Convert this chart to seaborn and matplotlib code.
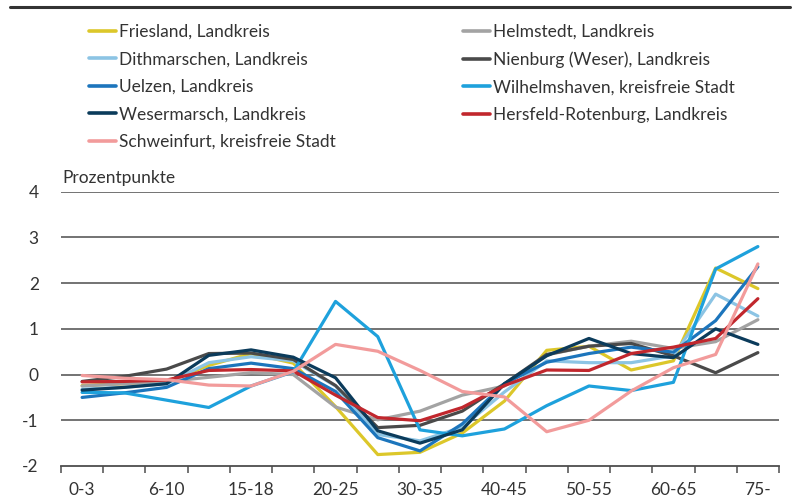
import matplotlib
matplotlib.use("Agg")
import matplotlib.pyplot as plt
from matplotlib.lines import Line2D
import seaborn as sns
import pandas as pd

categories = ["0-3", "3-6", "6-10", "10-15", "15-18", "18-20", "20-25", "25-30", "30-35",
              "35-40", "40-45", "45-50", "50-55", "55-60", "60-65", "65-75", "75-"]
tick_labels = ["0-3", "6-10", "15-18", "20-25", "30-35", "40-45", "50-55", "60-65", "75-"]

friesland     = [-0.24, -0.20, -0.15, 0.20, 0.46, 0.25, -0.70, -1.75, -1.70, -1.28, -0.58, 0.53, 0.62, 0.10, 0.30, 2.33, 1.88]
helmstedt     = [-0.25, -0.20, -0.15, -0.06, 0.04, 0.00, -0.71, -0.99, -0.80, -0.45, -0.25, 0.43, 0.62, 0.73, 0.57, 0.72, 1.20]
dithmarschen  = [-0.32, -0.28, -0.20, 0.26, 0.39, 0.30, -0.25, -1.31, -1.45, -1.15, -0.38, 0.30, 0.26, 0.26, 0.41, 1.76, 1.28]
nienburg      = [-0.15, -0.04, 0.12, 0.46, 0.47, 0.33, -0.24, -1.16, -1.11, -0.80, -0.20, 0.44, 0.62, 0.68, 0.41, 0.04, 0.48]
uelzen        = [-0.50, -0.40, -0.28, 0.13, 0.25, 0.13, -0.37, -1.38, -1.67, -1.08, -0.20, 0.27, 0.46, 0.60, 0.49, 1.18, 2.36]
wilhelmshaven = [-0.39, -0.40, -0.56, -0.72, -0.25, 0.06, 1.60, 0.83, -1.21, -1.34, -1.19, -0.68, -0.25, -0.35, -0.17, 2.31, 2.80]
wesermarsch   = [-0.34, -0.28, -0.20, 0.42, 0.54, 0.38, -0.07, -1.23, -1.50, -1.21, -0.20, 0.41, 0.79, 0.46, 0.37, 1.00, 0.66]
hersfeld      = [-0.16, -0.15, -0.12, 0.09, 0.11, 0.08, -0.45, -0.94, -1.01, -0.72, -0.24, 0.10, 0.09, 0.46, 0.60, 0.79, 1.66]
schweinfurt   = [-0.02, -0.08, -0.11, -0.23, -0.25, 0.07, 0.66, 0.51, 0.09, -0.37, -0.49, -1.25, -1.00, -0.36, 0.15, 0.44, 2.42]

series_names = ["Friesland, Landkreis", "Helmstedt, Landkreis", "Dithmarschen, Landkreis",
                "Nienburg (Weser), Landkreis", "Uelzen, Landkreis", "Wilhelmshaven, kreisfreie Stadt",
                "Wesermarsch, Landkreis", "Hersfeld-Rotenburg, Landkreis", "Schweinfurt, kreisfreie Stadt"]
series_values = [friesland, helmstedt, dithmarschen, nienburg, uelzen, wilhelmshaven,
                 wesermarsch, hersfeld, schweinfurt]
colors = ["#dcc72a", "#a3a3a3", "#8cc4e4", "#4a4a4a", "#1c75bc", "#1ea1dc",
          "#0b3b5b", "#c1272d", "#f29b9b"]

rows = []
for name, vals in zip(series_names, series_values):
    for i, (c, v) in enumerate(zip(categories, vals)):
        rows.append({"series": name, "pos": i, "cat": c, "value": v})
df = pd.DataFrame(rows)

sns.set_theme(style="white")
plt.rcParams["font.family"] = ["Lato", "DejaVu Sans"]
text_color = "#333333"

fig = plt.figure(figsize=(7.95, 4.97), dpi=100)
ax = fig.add_axes([61 / 795, 1 - 466 / 497, (779 - 61) / 795, (466 - 191.7) / 497])

palette = dict(zip(series_names, colors))
sns.lineplot(data=df, x="pos", y="value", hue="series", hue_order=series_names,
             palette=palette, linewidth=2.3, ax=ax, legend=False, sort=False)

ax.set_xlim(-0.5, len(categories) - 0.5)
ax.set_ylim(-2, 4)
ax.set_yticks([-2, -1, 0, 1, 2, 3, 4])
ax.set_yticklabels(["-2", "-1", "0", "1", "2", "3", "4"])
for v in [-1, 0, 1, 2, 3, 4]:
    ax.axhline(v, color="#4d4d4d", linewidth=1.1, zorder=0)

major_pos = [categories.index(t) for t in tick_labels]
ax.set_xticks(major_pos)
ax.set_xticklabels(tick_labels)
ax.set_xticks([i - 0.5 for i in range(len(categories) + 1)], minor=True)
ax.tick_params(axis="x", which="major", length=0, pad=11.5, labelsize=12.5, colors=text_color)
ax.tick_params(axis="x", which="minor", length=5, width=1.1, color="#4d4d4d", direction="out", bottom=True)
ax.tick_params(axis="y", length=0, pad=16, labelsize=12.5, colors=text_color)
ax.set_xlabel("")
ax.set_ylabel("")
for s in ["top", "right", "left"]:
    ax.spines[s].set_visible(False)
ax.spines["bottom"].set_color("#4d4d4d")
ax.spines["bottom"].set_linewidth(1.3)
ax.grid(False)

fig.text(62 / 795, 1 - 178 / 497, "Prozentpunkte", fontsize=12.5, color=text_color, va="center", ha="left")

# top rule line
fig.add_artist(Line2D([10 / 795, 790 / 795], [1 - 7 / 497, 1 - 7 / 497], color="#333333", linewidth=2.2))

# legends
handles = {n: Line2D([0], [0], color=c, linewidth=2.6) for n, c in zip(series_names, colors)}
col1 = ["Friesland, Landkreis", "Dithmarschen, Landkreis", "Uelzen, Landkreis",
        "Wesermarsch, Landkreis", "Schweinfurt, kreisfreie Stadt"]
col2 = ["Helmstedt, Landkreis", "Nienburg (Weser), Landkreis",
        "Wilhelmshaven, kreisfreie Stadt", "Hersfeld-Rotenburg, Landkreis"]
for cols, xpos in [(col1, 89), (col2, 463)]:
    leg = fig.legend([handles[n] for n in cols], cols, loc="upper left",
                     bbox_to_anchor=(xpos / 795, 1 - 24 / 497), frameon=False,
                     fontsize=12.5, handlelength=1.55, handletextpad=0.15,
                     labelspacing=0.66, borderaxespad=0, borderpad=0,
                     labelcolor=text_color)

fig.savefig("out.png", dpi=100)
